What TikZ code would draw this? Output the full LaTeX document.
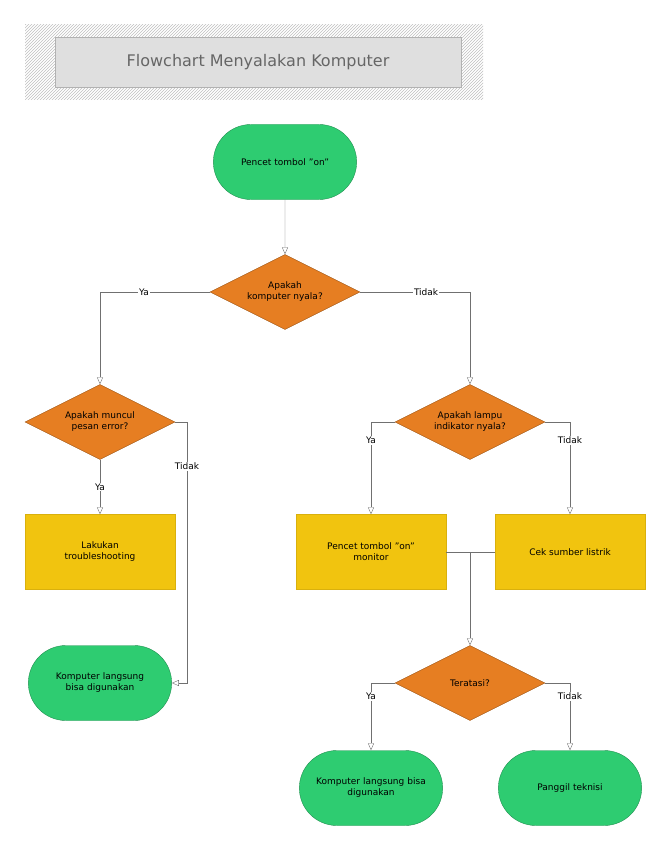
\documentclass[tikz,border=0pt]{standalone}
\usepackage{fontspec}
\setmainfont{DejaVu Sans}
\usetikzlibrary{shapes.geometric,arrows.meta,patterns}
\definecolor{gr}{HTML}{2ECC71}
\definecolor{orn}{HTML}{E67E22}
\definecolor{yel}{HTML}{F1C40F}
\definecolor{ln}{HTML}{707070}
\begin{document}
\begin{tikzpicture}[x=1pt,y=-1pt,font=\fontsize{9}{11}\selectfont,
 term/.style={rounded rectangle,fill=gr,draw=gr!70!black,minimum width=150pt,minimum height=75pt,align=center,text width=135pt},
 dia/.style={diamond,fill=orn,draw=orn!70!black,minimum width=150pt,minimum height=75pt,aspect=2,inner sep=0pt,align=center},
 box/.style={rectangle,fill=yel,draw=yel!90!black,minimum width=150pt,minimum height=75pt,align=center},
 con/.style={draw=ln,-{Triangle[open,length=7pt,width=6pt]}},
 lbl/.style={fill=white,inner sep=1pt}]
\useasboundingbox (0,0) rectangle (670,845);
\usetikzlibrary{shapes.misc}
\path[pattern=north east lines,pattern color=gray!50] (25,25) rectangle (483,100);
\node[fill=gray!25,draw=gray!60,minimum width=406pt,minimum height=50pt,font=\fontsize{16}{18}\selectfont,text=gray!80!black] (title) at (258,62) {Flowchart Menyalakan Komputer};
\node[term] (s) at (285,162) {Pencet tombol "on"};
\node[dia] (d1) at (285,292) {Apakah\\komputer nyala?};
\node[dia] (d2) at (100,422) {Apakah muncul\\pesan error?};
\node[dia] (d3) at (470,422) {Apakah lampu\\indikator nyala?};
\node[box] (b1) at (100,552) {Lakukan\\troubleshooting};
\node[term] (t2) at (100,683) {Komputer langsung\\bisa digunakan};
\node[box] (b2) at (371,552) {Pencet tombol "on"\\monitor};
\node[box] (b3) at (570,552) {Cek sumber listrik};
\node[dia] (d4) at (470,683) {Teratasi?};
\node[term] (t3) at (371,788) {Komputer langsung bisa\\digunakan};
\node[term] (t4) at (570,788) {Panggil teknisi};
\coordinate (j) at (470,552);
\draw[con] (s) -- (d1);
\draw[con] (d1.west) -| node[lbl,pos=0.3]{Ya} (d2.north);
\draw[con] (d1.east) -| node[lbl,pos=0.3]{Tidak} (d3.north);
\draw[con] (d2) -- node[lbl]{Ya} (b1);
\draw[con] (d2.east) -- (187,422) -- node[lbl,pos=0.17]{Tidak} (187,683) -- (t2.east);
\draw[con] (d3.west) -| node[lbl,pos=0.6]{Ya} (b2.north);
\draw[con] (d3.east) -| node[lbl,pos=0.6]{Tidak} (b3.north);
\draw[draw=ln] (b2.east) -- (j) (b3.west) -- (j);
\draw[con] (j) -- (d4.north);
\draw[con] (d4.west) -| node[lbl,pos=0.6]{Ya} (t3.north);
\draw[con] (d4.east) -| node[lbl,pos=0.6]{Tidak} (t4.north);
\end{tikzpicture}
\end{document}
